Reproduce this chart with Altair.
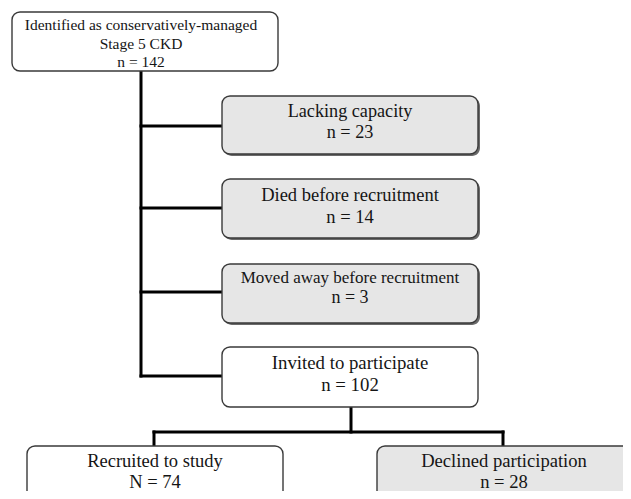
import altair as alt
import pandas as pd

# Box definitions (page pixel layout)
box_x1 = [12, 222, 222, 222, 222, 27, 377]
box_x2 = [278, 478, 478, 478, 478, 283, 632]
box_y1 = [12, 96, 179, 264, 347, 446, 446]
box_y2 = [71, 154, 238, 323, 407, 510, 510]
box_fill = ["white", "#e6e6e6", "#e6e6e6", "#e6e6e6", "white", "white", "#e6e6e6"]
box_gray = [False, True, True, True, False, False, True]

# Text lines
text_labels = ["Identified as conservatively-managed", "Stage 5 CKD", "n = 142",
               "Lacking capacity", "n = 23",
               "Died before recruitment", "n = 14",
               "Moved away before recruitment", "n = 3",
               "Invited to participate", "n = 102",
               "Recruited to study", "N = 74",
               "Declined participation", "n = 28"]
text_x = [141, 141, 141, 350, 350, 350, 350, 350, 350, 350, 350, 155, 155, 504, 504]
text_y = [25, 44, 62, 112, 133, 195, 217, 278, 298, 363, 385, 461, 482, 461, 482]
text_size = [15.5, 15.5, 15.5, 18.2, 18.2, 18.5, 18.5, 17, 18, 18.8, 18.8, 18.5, 18.5, 18.6, 18.6]

# Connector segments
seg_x1 = [141, 141, 141, 141, 141, 351, 154, 154, 503]
seg_y1 = [71, 126, 208, 292, 376, 407, 432, 432, 432]
seg_x2 = [141, 222, 222, 222, 222, 351, 503, 154, 503]
seg_y2 = [376, 126, 208, 292, 376, 432, 432, 446, 446]

W, H = 615, 483
xs = alt.Scale(domain=[8, 8 + W])
ys = alt.Scale(domain=[8, 8 + H], reverse=True)

boxes = pd.DataFrame({"x1": box_x1, "x2": box_x2, "y1": box_y1, "y2": box_y2,
                      "fill": box_fill, "gray": box_gray})
shadow = boxes[boxes["gray"]].copy()
shadow["x1"] = shadow["x1"] + 2
shadow["x2"] = shadow["x2"] + 2
shadow["y1"] = shadow["y1"] + 2
shadow["y2"] = shadow["y2"] + 2

texts = pd.DataFrame({"label": text_labels, "x": text_x, "y": text_y, "size": text_size})
segs = pd.DataFrame({"x1": seg_x1, "y1": seg_y1, "x2": seg_x2, "y2": seg_y2})

def enc_rect(ch):
    return ch.encode(
        x=alt.X("x1:Q", scale=xs, axis=None),
        x2="x2:Q",
        y=alt.Y("y1:Q", scale=ys, axis=None),
        y2="y2:Q",
    )

shadow_layer = enc_rect(alt.Chart(shadow).mark_rect(cornerRadius=8, fill="#6a6a6a", clip=True))
box_layer = enc_rect(alt.Chart(boxes).mark_rect(cornerRadius=8, stroke="#3a3a3a",
                                                  strokeWidth=1.4, clip=True)).encode(
    fill=alt.Fill("fill:N", scale=None))

rule_layer = alt.Chart(segs).mark_rule(color="black", strokeWidth=3, strokeCap="square").encode(
    x=alt.X("x1:Q", scale=xs, axis=None),
    y=alt.Y("y1:Q", scale=ys, axis=None),
    x2="x2:Q",
    y2="y2:Q",
)

text_layer = alt.Chart(texts).mark_text(font="Liberation Serif", color="#151515",
                                        baseline="middle", align="center").encode(
    x=alt.X("x:Q", scale=xs, axis=None),
    y=alt.Y("y:Q", scale=ys, axis=None),
    text="label:N",
    size=alt.Size("size:Q", scale=None, legend=None),
)

chart = alt.layer(rule_layer, shadow_layer, box_layer, text_layer).properties(
    width=W, height=H, autosize=alt.AutoSizeParams(type="none"), padding=0,
    background="white"
).configure_view(stroke=None)

chart.save("out.html", embed_options={"renderer": "svg", "actions": False})
